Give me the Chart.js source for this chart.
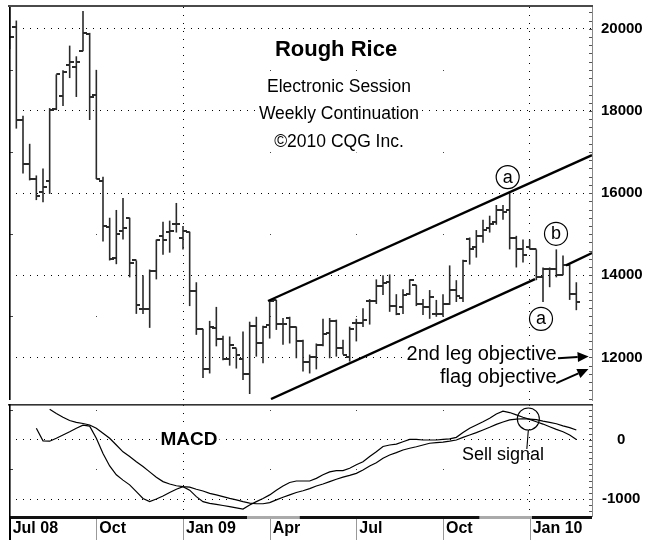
<!DOCTYPE html>
<html>
<head>
<meta charset="utf-8">
<title>Rough Rice</title>
<script src="https://cdn.jsdelivr.net/npm/chart.js@4.4.1/dist/chart.umd.min.js"></script>
<style>
  html, body { margin: 0; padding: 0; background: #fff; }
  #wrap { position: relative; width: 649px; height: 540px; overflow: hidden; }
  canvas { position: absolute; left: 0; }
  #priceChart { top: 0; }
  #macdChart { top: 404px; }
</style>
</head>
<body>
<div id="wrap">
  <canvas id="priceChart" width="649" height="405"></canvas>
  <canvas id="macdChart" width="649" height="136"></canvas>
</div>
<script>
// weekly bars, week 0 = first week of Jul 2008
const tickWeeks = [0, 13, 26, 39, 52, 65, 78];
const tickLabels = ['Jul 08', 'Oct', 'Jan 09', 'Apr', 'Jul', 'Oct', 'Jan 10'];
const yearWeeks = [26, 78];
const priceTicks = [12000, 14000, 16000, 18000, 20000];
const macdTicks = [-1000, 0];

const opens = [20300, 20050, 17780, 16700, 16340, 16020, 16290, 18050, 18360, 19110,
  19080, 19450, 19880, 18380, 16290, 15180, 14410, 15080, 15400, 14360,
  13180, 13180, 14100, 14960, 15060, 15250, 14900, 15060, 13610, 12700,
  11710, 12720, 12460, 11950, 12220, 11950, 11590, 12770, 12340, 12800,
  13400, 12820, 12960, 12750, 12410, 11880, 12020, 12310, 12600, 12890,
  12240, 12020, 12840, 12840, 13370, 13370, 13730, 13830, 13250, 13230,
  13540, 13760, 13300, 13230, 13060, 13060, 13300, 13640, 13450, 14880,
  14700, 14950, 15150, 15300, 15600, 15600, 14900, 14630, 14700, 14630,
  13950, 14150, 14150, 14000, 14250, 13550];
const highs = [20600, 20200, 17880, 17200, 16430, 16600, 18070, 18890, 18990, 19590,
  19330, 20430, 19900, 19000, 16400, 15400, 15590, 15880, 15400, 14360,
  14000, 14140, 14870, 15300, 15330, 15760, 15200, 15060, 13830, 12700,
  12890, 13230, 12530, 12510, 12220, 12630, 12870, 12990, 12770, 13370,
  13400, 12960, 12990, 12750, 12430, 12070, 12340, 12940, 12960, 12920,
  12430, 12750, 12940, 13200, 13420, 13900, 14000, 14020, 13540, 13660,
  13900, 13760, 13420, 13640, 13400, 13540, 14240, 13880, 14380, 14920,
  15100, 15350, 15450, 15710, 15710, 16000, 14960, 14870, 14870, 14630,
  14190, 14190, 14630, 14480, 14260, 13830];
const lows = [19500, 17570, 16480, 16310, 15830, 15780, 15980, 18020, 18120, 18800,
  18340, 19450, 17780, 16340, 14820, 14360, 14270, 14870, 13950, 13060,
  13060, 12720, 13900, 14500, 14550, 15040, 14630, 13250, 12550, 11500,
  11610, 12270, 11930, 11800, 11730, 11450, 11110, 12020, 11860, 12460,
  12670, 12310, 12340, 11980, 11660, 11610, 11710, 12270, 11980, 12020,
  12070, 11900, 12390, 12740, 12800, 13300, 13520, 13110, 13030, 13060,
  13520, 13250, 13030, 12940, 12990, 12990, 13280, 13350, 13350, 14260,
  14430, 14790, 15040, 15230, 15350, 14630, 14190, 14310, 14630, 13880,
  13350, 13710, 13950, 14000, 13400, 13150];
const closes = [19800, 17780, 16700, 16340, 15930, 16140, 18020, 18890, 18950, 19200,
  19200, 19900, 18340, 16340, 15200, 14390, 15010, 15160, 14290, 13280,
  13180, 14100, 14870, 14850, 15080, 15250, 15080, 13610, 12700, 11710,
  12750, 12460, 11950, 12310, 12070, 11590, 12770, 12340, 12750, 13370,
  12820, 12820, 12750, 12410, 11880, 12020, 12310, 12580, 12890, 12240,
  12070, 12700, 12840, 12920, 13370, 13730, 13800, 13250, 13060, 13520,
  13880, 13300, 13230, 13470, 13060, 13300, 13650, 13500, 14350, 14630,
  14950, 15100, 15250, 15600, 15550, 14900, 14630, 14500, 14650, 13950,
  14150, 14150, 14000, 14250, 13550, 13350];

const macdLine = [null, null, null, null, 200, -15, -20, 30, 85, 140,
  200, 250, 235, 30, -230, -440, -590, -680, -760, -875,
  -990, -1045, -1000, -950, -890, -835, -790, -850, -960, -1045,
  -1075, -1090, -1110, -1130, -1150, -1170, -1100, -1045, -990, -930,
  -850, -780, -720, -695, -695, -695, -650, -590, -540, -520,
  -520, -480, -420, -370, -280, -200, -110, -85, -70, -30,
  10, 10, 0, 0, 0, 10, 20, 45, 125, 200,
  255, 310, 370, 440, 490, 465, 425, 385, 350, 310,
  270, 225, 180, 140, 85, 10];
const signalLine = [null, null, null, null, null, null, 520, 450, 385, 330,
  300, 280, 255, 200, 115, 30, -85, -200, -280, -370,
  -450, -540, -630, -705, -745, -775, -790, -800, -835, -865,
  -905, -930, -960, -990, -1015, -1045, -1070, -1080, -1080, -1060,
  -1015, -970, -930, -890, -860, -825, -780, -745, -705, -665,
  -630, -600, -565, -510, -440, -385, -310, -255, -215, -170,
  -140, -115, -85, -55, -45, -35, -20, 0, 45, 85,
  125, 170, 215, 265, 305, 340, 355, 360, 355, 345,
  320, 300, 275, 240, 210, 170];

// trend lines drawn on the price panel, [week, price] end points
const upperChannel = [[38.75, 13374], [87.35, 16923]];
const lowerChannel = [[39.2, 10988], [78.8, 13904]];
const flagLine = [[83.45, 14241], [87.35, 14542]];

const waveLabels = [
  { text: 'a', week: 74.7, price: 16390 },
  { text: 'b', week: 81.95, price: 15010 },
  { text: 'a', week: 79.7, price: 12940 }
];
const objectives = [
  { text: '2nd leg objective', textAt: [82.05, 12072], from: [82.25, 11980], to: [86.85, 12025] },
  { text: 'flag objective', textAt: [82.05, 11518], from: [82.0, 11374], to: [86.82, 11718] }
];
const sellSignal = { week: 77.8, value: 356 };

const weekMin = -0.1, weekMax = 87.35;
const priceMin = 10964, priceMax = 20530;
const macdMin = -1288, macdMax = 593;

const ff = '"Liberation Sans", Arial, Helvetica, sans-serif';
Chart.defaults.font.family = ff;
Chart.defaults.color = '#000';

const weeks = closes.map((c, i) => i);
const pts = (arr) => weeks.map(i => ({ x: i, y: arr[i] }));
const seg = (p) => p.map(([w, v]) => ({ x: w, y: v }));

function tickMark(side) {
  const c = document.createElement('canvas');
  c.width = 8; c.height = 2;
  const g = c.getContext('2d');
  g.fillStyle = '#2a2a2a';
  g.fillRect(side === 'open' ? 0 : 4, 0, 4, 2);
  return c;
}

function drawText(ctx, text, x, y, font, align, bg) {
  ctx.font = font;
  ctx.textAlign = align;
  ctx.textBaseline = 'middle';
  if (bg) {
    const w = ctx.measureText(text).width;
    const size = parseFloat(font.match(/([\d.]+)px/)[1]);
    const left = align === 'center' ? x - w / 2 : align === 'right' ? x - w : x;
    ctx.fillStyle = '#fff';
    ctx.fillRect(left - 2, y - size * 0.6, w + 4, size * 1.2);
  }
  ctx.fillStyle = '#000';
  ctx.fillText(text, x, y);
}

function arrow(ctx, x1, y1, x2, y2) {
  const ang = Math.atan2(y2 - y1, x2 - x1), head = 11, half = 5;
  const bx = x2 - head * Math.cos(ang), by = y2 - head * Math.sin(ang);
  ctx.strokeStyle = '#000';
  ctx.fillStyle = '#000';
  ctx.lineWidth = 2;
  ctx.beginPath(); ctx.moveTo(x1, y1); ctx.lineTo(bx, by); ctx.stroke();
  ctx.beginPath();
  ctx.moveTo(x2, y2);
  ctx.lineTo(bx - half * Math.sin(ang), by + half * Math.cos(ang));
  ctx.lineTo(bx + half * Math.sin(ang), by - half * Math.cos(ang));
  ctx.closePath(); ctx.fill();
}

// y axes keep a fixed width and must not push the plot area in
function fixedAxis(s) {
  s.width = 57;
  s.paddingTop = 0; s.paddingBottom = 0; s.paddingLeft = 0; s.paddingRight = 0;
}

const pricePanel = {
  id: 'pricePanel',
  beforeDatasetsDraw(chart) {
    const { ctx, scales: { x, y } } = chart;
    ctx.save();
    ctx.fillStyle = '#444';
    tickWeeks.filter(w => !yearWeeks.includes(w)).forEach(w => {
      const px = Math.round(x.getPixelForValue(w));
      [13000, 15000, 17000, 19000].forEach(v =>
        ctx.fillRect(px, Math.round(y.getPixelForValue(v)), w === 0 ? 3 : 1, 1));
    });
    ctx.restore();
  },
  afterDatasetsDraw(chart) {
    const { ctx, chartArea: a, scales: { x, y } } = chart;
    ctx.save();
    ctx.fillStyle = '#4a4a4a';
    ctx.fillRect(a.left - 1, a.top - 2, a.right - a.left + 2, 2);
    ctx.fillStyle = '#000';
    ctx.fillRect(a.left, a.top, 1.6, a.bottom - a.top);
    ctx.fillStyle = '#555';
    for (let v = 11000; v < priceMax; v += 200) {
      ctx.fillRect(a.right - 3, Math.round(y.getPixelForValue(v)), 3, 1);
    }

    drawText(ctx, 'Rough Rice', 336, 50, 'bold 22px ' + ff, 'center', false);
    drawText(ctx, 'Electronic Session', 339, 87, '17.5px ' + ff, 'center', true);
    drawText(ctx, 'Weekly Continuation', 339, 114, '17.5px ' + ff, 'center', true);
    drawText(ctx, '\u00a92010 CQG Inc.', 339, 142, '17.5px ' + ff, 'center', true);

    waveLabels.forEach(l => {
      const cx = x.getPixelForValue(l.week), cy = y.getPixelForValue(l.price);
      ctx.beginPath();
      ctx.arc(cx, cy, 11.5, 0, Math.PI * 2);
      ctx.fillStyle = '#fff'; ctx.fill();
      ctx.lineWidth = 1.2; ctx.strokeStyle = '#000'; ctx.stroke();
      drawText(ctx, l.text, cx, cy + 0.5, '18px ' + ff, 'center', false);
    });

    objectives.forEach(o => {
      drawText(ctx, o.text, x.getPixelForValue(o.textAt[0]), y.getPixelForValue(o.textAt[1]), '20px ' + ff, 'right', true);
      arrow(ctx, x.getPixelForValue(o.from[0]), y.getPixelForValue(o.from[1]),
        x.getPixelForValue(o.to[0]), y.getPixelForValue(o.to[1]));
    });
    ctx.restore();
  }
};

// shading of the strip under the MACD panel: [from week, to week, colour]
const stripBands = [[-0.1, 35.6, '#111'], [35.6, 43.5, '#aaa'], [43.5, 70.5, '#111'], [70.5, 78.35, '#aaa'], [78.35, 87.35, '#111']];

const macdPanel = {
  id: 'macdPanel',
  beforeDatasetsDraw(chart) {
    const { ctx, scales: { x, y } } = chart;
    ctx.save();
    ctx.fillStyle = '#444';
    tickWeeks.filter(w => !yearWeeks.includes(w)).forEach(w => {
      const px = Math.round(x.getPixelForValue(w));
      [500, -500].forEach(v => ctx.fillRect(px, Math.round(y.getPixelForValue(v)), w === 0 ? 3 : 1, 1));
    });
    ctx.restore();
  },
  afterDatasetsDraw(chart) {
    const { ctx, chartArea: a, scales: { x, y }, height } = chart;
    ctx.save();
    ctx.fillStyle = '#333';
    ctx.fillRect(a.left - 1, 0, a.right - a.left + 2, 1.6);
    stripBands.forEach(([w0, w1, col]) => {
      const x0 = x.getPixelForValue(w0), x1 = x.getPixelForValue(w1);
      ctx.fillStyle = col;
      ctx.fillRect(x0, a.bottom, x1 - x0, 3);
    });
    tickWeeks.forEach(w => {
      const px = Math.round(x.getPixelForValue(w)) + 0.5;
      ctx.strokeStyle = w === 0 ? '#000' : '#999';
      ctx.lineWidth = 1;
      ctx.beginPath(); ctx.moveTo(px, a.bottom + 3); ctx.lineTo(px, height); ctx.stroke();
    });
    ctx.fillStyle = '#000';
    ctx.fillRect(a.left, 0, 1.6, height);
    ctx.fillStyle = '#555';
    for (let v = -1200; v < macdMax; v += 100) {
      ctx.fillRect(a.right - 3, Math.round(y.getPixelForValue(v)), 3, 1);
    }

    drawText(ctx, 'MACD', 189, 36, 'bold 19px ' + ff, 'center', true);

    const cx = x.getPixelForValue(sellSignal.week), cy = y.getPixelForValue(sellSignal.value);
    ctx.beginPath();
    ctx.arc(cx, cy, 11, 0, Math.PI * 2);
    ctx.lineWidth = 1.1; ctx.strokeStyle = '#000'; ctx.stroke();
    ctx.beginPath(); ctx.moveTo(cx, cy + 11); ctx.lineTo(cx - 1.5, cy + 30); ctx.stroke();
    drawText(ctx, 'Sell signal', 503, 51, '18px ' + ff, 'center', false);
    ctx.restore();
  }
};

const weekAxis = (showLabels) => ({
  type: 'linear',
  min: weekMin,
  max: weekMax,
  offset: false,
  afterBuildTicks: (s) => { s.ticks = tickWeeks.map(v => ({ value: v })); },
  afterFit: (s) => {
    s.height = showLabels ? 24 : 0;
    s.paddingLeft = 0; s.paddingRight = 0; s.paddingTop = 0; s.paddingBottom = 0;
  },
  ticks: {
    display: showLabels,
    autoSkip: false,
    maxRotation: 0,
    align: 'start',
    labelOffset: 3,
    padding: 3,
    color: '#000',
    font: { size: 16, weight: 'bold' },
    callback: (v) => tickLabels[tickWeeks.indexOf(v)]
  },
  grid: {
    offset: false,
    drawTicks: false,
    lineWidth: 1,
    color: (c) => (c.tick && yearWeeks.includes(c.tick.value)) ? '#000' : 'rgba(0,0,0,0)'
  },
  border: { display: false, dash: [1, 7] }
});

new Chart(document.getElementById('priceChart'), {
  type: 'line',
  data: {
    datasets: [
      { type: 'line', data: seg(upperChannel), borderColor: '#000', borderWidth: 2.4, pointRadius: 0, clip: 0 },
      { type: 'line', data: seg(lowerChannel), borderColor: '#000', borderWidth: 2.4, pointRadius: 0, clip: 0 },
      { type: 'line', data: seg(flagLine), borderColor: '#000', borderWidth: 2.4, pointRadius: 0, clip: 0 },
      { type: 'line', data: pts(opens), showLine: false, pointStyle: tickMark('open'), pointRadius: 3, clip: 0 },
      { type: 'line', data: pts(closes), showLine: false, pointStyle: tickMark('close'), pointRadius: 3, clip: 0 },
      {
        type: 'bar',
        data: weeks.map(i => ({ x: i, y: [lows[i], highs[i]] })),
        backgroundColor: '#2a2a2a',
        borderWidth: 0,
        barThickness: 1.6,
        inflateAmount: 0,
        clip: 0
      }
    ]
  },
  options: {
    responsive: false,
    animation: false,
    events: [],
    layout: { padding: { left: 9, top: 7, right: 0, bottom: 1 } },
    plugins: { legend: { display: false }, tooltip: { enabled: false } },
    scales: {
      x: weekAxis(false),
      y: {
        position: 'right',
        min: priceMin,
        max: priceMax,
        afterBuildTicks: (s) => { s.ticks = priceTicks.map(v => ({ value: v })); },
        afterFit: fixedAxis,
        ticks: { crossAlign: 'center', padding: 9, color: '#000', font: { size: 15, weight: 'bold' }, callback: (v) => String(v) },
        grid: { drawTicks: false, color: '#000', lineWidth: 1 },
        border: { display: true, color: '#888', width: 1, dash: [1, 6] }
      }
    }
  },
  plugins: [pricePanel]
});

new Chart(document.getElementById('macdChart'), {
  type: 'line',
  data: {
    datasets: [
      { data: pts(macdLine), borderColor: '#000', borderWidth: 1.2, pointRadius: 0, tension: 0 },
      { data: pts(signalLine), borderColor: '#000', borderWidth: 1.2, pointRadius: 0, tension: 0 }
    ]
  },
  options: {
    responsive: false,
    animation: false,
    events: [],
    layout: { padding: { left: 9, top: 1, right: 0, bottom: 0 } },
    plugins: { legend: { display: false }, tooltip: { enabled: false } },
    scales: {
      x: weekAxis(true),
      y: {
        position: 'right',
        min: macdMin,
        max: macdMax,
        afterBuildTicks: (s) => { s.ticks = macdTicks.map(v => ({ value: v })); },
        afterFit: fixedAxis,
        ticks: { crossAlign: 'center', padding: 10, color: '#000', font: { size: 15, weight: 'bold' }, callback: (v) => String(v) },
        grid: { drawTicks: false, color: '#000', lineWidth: 1 },
        border: { display: true, color: '#888', width: 1, dash: [1, 6] }
      }
    }
  },
  plugins: [macdPanel]
});
</script>
</body>
</html>
